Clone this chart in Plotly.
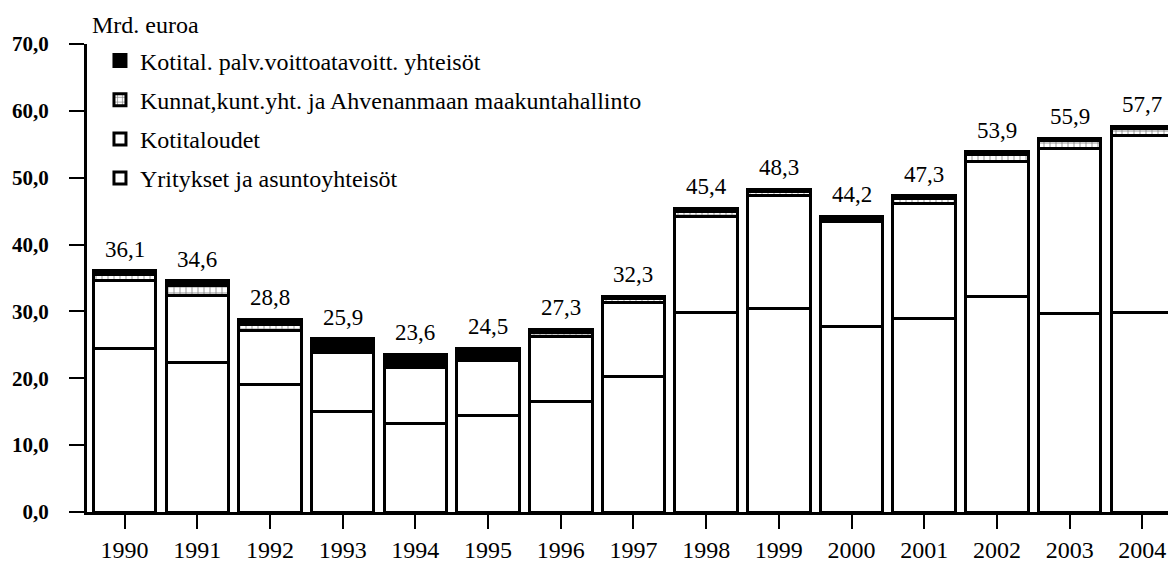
import plotly.graph_objects as go

years = list(range(1990, 2005))
yritykset = [24.5, 22.4, 19.1, 15.1, 13.2, 14.5, 16.5, 20.3, 29.8, 30.5, 27.8, 29.0, 32.3, 29.7, 29.9]
kotitaloudet = [10.2, 10.0, 8.0, 8.8, 8.4, 8.2, 9.8, 11.0, 14.4, 16.8, 15.6, 17.2, 20.2, 24.7, 26.4]
kunnat = [0.8, 1.5, 1.0, 0.4, 0.4, 0.4, 0.6, 0.6, 0.8, 0.6, 0.5, 0.7, 1.0, 1.1, 1.0]
kotital_palv = [0.6, 0.7, 0.7, 1.6, 1.6, 1.4, 0.4, 0.4, 0.4, 0.4, 0.3, 0.4, 0.4, 0.4, 0.4]
totals = [36.1, 34.6, 28.8, 25.9, 23.6, 24.5, 27.3, 32.3, 45.4, 48.3, 44.2, 47.3, 53.9, 55.9, 57.7]
y_ticks = [0, 10, 20, 30, 40, 50, 60, 70]

FONT = "Liberation Serif, 'Times New Roman', Times, serif"
EDGE = dict(color="black", width=3)

fig = go.Figure()
fig.add_bar(x=years, y=yritykset, name="Yritykset ja asuntoyhteisöt",
            marker=dict(color="white", line=EDGE), legendgroup="d", legendrank=4)
fig.add_bar(x=years, y=kotitaloudet, name="Kotitaloudet",
            marker=dict(color="white", line=EDGE), legendgroup="c", legendrank=3)
fig.add_bar(x=years, y=kunnat, name="Kunnat,kunt.yht. ja Ahvenanmaan maakuntahallinto",
            marker=dict(color="white", line=EDGE,
                        pattern=dict(shape="+", fgcolor="black", bgcolor="white",
                                     size=6, solidity=0.25)),
            legendgroup="b", legendrank=2)
fig.add_bar(x=years, y=kotital_palv, name="Kotital. palv.voittoatavoitt. yhteisöt",
            marker=dict(color="black", line=EDGE), legendgroup="a", legendrank=1)

# totals above the bars
for yr, t in zip(years, totals):
    fig.add_annotation(x=yr, y=t, text=f"{t:.1f}".replace(".", ","), showarrow=False,
                       yanchor="bottom", yshift=7, font=dict(size=23))

fig.add_annotation(x=0.003, y=1.0, xref="paper", yref="paper", text="Mrd. euroa",
                   showarrow=False, xanchor="left", yanchor="bottom", yshift=4,
                   font=dict(size=24))

fig.update_layout(
    width=1168, height=562,
    barmode="stack", bargap=0.14,
    separators=", ",
    plot_bgcolor="white", paper_bgcolor="white",
    font=dict(family=FONT, size=24, color="black"),
    margin=dict(l=87, r=0, t=44, b=50),
    legend=dict(x=0.012, y=1.012, xanchor="left", yanchor="top",
                traceorder="grouped", tracegroupgap=5,
                font=dict(size=24), bgcolor="rgba(0,0,0,0)"),
)
fig.update_xaxes(range=[1989.483, 2004.353], tickvals=years, showgrid=False,
                 showline=True, linecolor="black", linewidth=3,
                 ticks="outside", ticklen=14, tickwidth=1.5, tickcolor="black",
                 tickfont=dict(size=24))
fig.update_yaxes(range=[0, 70], tickvals=y_ticks, tickformat=".1f", showgrid=False,
                 zeroline=False, showline=True, linecolor="black", linewidth=3,
                 ticks="outside", ticklen=15, tickwidth=1.5, tickcolor="black",
                 ticklabelstandoff=16,
                 tickfont=dict(size=21, weight="bold"))

fig.write_html("out.html", config={"displayModeBar": False},
               post_script="document.body.style.margin='0';")
